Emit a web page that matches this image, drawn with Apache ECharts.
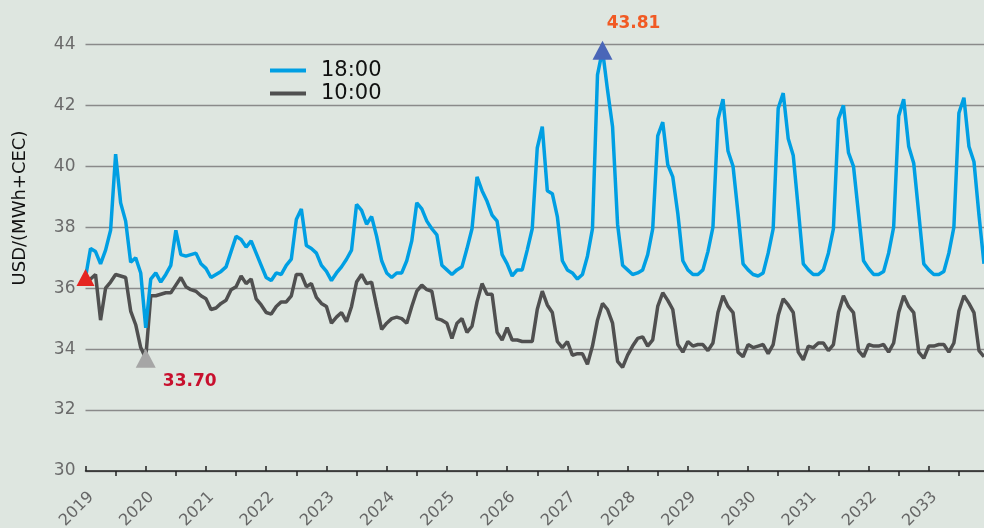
<!DOCTYPE html>
<html>
<head>
<meta charset="utf-8">
<script src="https://cdn.jsdelivr.net/npm/echarts@6/dist/echarts.min.js"></script>
<style>
html, body { margin: 0; padding: 0; background: #dee6e0; }
#chart { width: 984px; height: 528px; }
</style>
</head>
<body>
<div id="chart"></div>
<script>
var years = [2019, 2020, 2021, 2022, 2023, 2024, 2025, 2026, 2027, 2028, 2029, 2030, 2031, 2032, 2033];
var monthNums = ['01', '02', '03', '04', '05', '06', '07', '08', '09', '10', '11', '12'];
var months = [];
years.forEach(function (y) {
    monthNums.forEach(function (m) { months.push(y + '-' + m); });
});

// 18:00 price, one value per month
var price1800 = [
    36.35, 37.3, 37.2, 36.8, 37.25, 37.9, 40.4, 38.8, 38.2, 36.85, 37.0, 36.5,
    34.7, 36.3, 36.5, 36.2, 36.45, 36.75, 37.9, 37.1, 37.05, 37.1, 37.15, 36.8,
    36.65, 36.35, 36.45, 36.55, 36.7, 37.2, 37.7, 37.6, 37.35, 37.55, 37.15, 36.75,
    36.35, 36.25, 36.5, 36.45, 36.75, 36.95, 38.25, 38.6, 37.4, 37.3, 37.15, 36.75,
    36.55, 36.25, 36.5, 36.7, 36.95, 37.25, 38.75, 38.55, 38.1, 38.35, 37.7, 36.9,
    36.5, 36.35, 36.5, 36.5, 36.9, 37.55, 38.8, 38.6, 38.2, 37.95, 37.75, 36.75,
    36.6, 36.45, 36.6, 36.7, 37.3, 37.95, 39.65, 39.2, 38.85, 38.4, 38.2, 37.1,
    36.8, 36.4, 36.6, 36.6, 37.25, 37.95, 40.6, 41.3, 39.2, 39.1, 38.35, 36.9,
    36.6, 36.5, 36.3, 36.45, 37.05, 37.95, 43.0, 43.81, 42.5, 41.3, 38.1, 36.75,
    36.6, 36.45, 36.5, 36.6, 37.1, 37.95, 41.0, 41.45, 40.05, 39.65, 38.45, 36.9,
    36.6, 36.45, 36.45, 36.6, 37.2, 38.0, 41.55, 42.2, 40.5, 40.0, 38.45, 36.8,
    36.6, 36.45, 36.4, 36.5, 37.15, 37.95, 41.9, 42.4, 40.9, 40.35, 38.6, 36.8,
    36.6, 36.45, 36.45, 36.6, 37.15, 37.95, 41.55, 42.0, 40.45, 40.0, 38.45, 36.9,
    36.65, 36.45, 36.45, 36.55, 37.15, 38.0, 41.65, 42.2, 40.65, 40.1, 38.45, 36.8,
    36.6, 36.45, 36.45, 36.55, 37.15, 38.0, 41.75, 42.25, 40.65, 40.15, 38.4, 36.8
];

// 10:00 price, one value per month
var price1000 = [
    36.15, 36.3, 36.45, 34.95, 36.0, 36.2, 36.45, 36.4, 36.35, 35.25, 34.8, 34.05,
    33.7, 35.75, 35.75, 35.8, 35.85, 35.85, 36.1, 36.35, 36.05, 35.95, 35.9, 35.75,
    35.65, 35.3, 35.35, 35.5, 35.6, 35.95, 36.05, 36.4, 36.15, 36.3, 35.65, 35.45,
    35.2, 35.15, 35.4, 35.55, 35.55, 35.75, 36.45, 36.45, 36.05, 36.15, 35.7, 35.5,
    35.4, 34.85, 35.05, 35.2, 34.9, 35.4, 36.2, 36.45, 36.15, 36.2, 35.4, 34.65,
    34.85, 35.0, 35.05, 35.0, 34.85, 35.4, 35.9, 36.1, 35.95, 35.9, 35.0, 34.95,
    34.85, 34.35, 34.85, 35.0, 34.55, 34.75, 35.55, 36.15, 35.8, 35.8, 34.55, 34.3,
    34.7, 34.3, 34.3, 34.25, 34.25, 34.25, 35.3, 35.9, 35.45, 35.2, 34.25, 34.05,
    34.25, 33.8, 33.85, 33.85, 33.5, 34.1, 34.95, 35.5, 35.3, 34.85, 33.6, 33.4,
    33.8, 34.1, 34.35, 34.4, 34.1, 34.3, 35.4, 35.85, 35.6, 35.3, 34.15, 33.9,
    34.25, 34.1, 34.15, 34.15, 33.95, 34.2, 35.2, 35.75, 35.4, 35.2, 33.9, 33.75,
    34.15, 34.05, 34.1, 34.15, 33.85, 34.15, 35.1, 35.65, 35.45, 35.2, 33.9, 33.65,
    34.1, 34.05, 34.2, 34.2, 33.95, 34.15, 35.2, 35.75, 35.4, 35.2, 33.95, 33.75,
    34.15, 34.1, 34.1, 34.15, 33.9, 34.2, 35.2, 35.75, 35.4, 35.2, 33.9, 33.7,
    34.1, 34.1, 34.15, 34.15, 33.9, 34.2, 35.25, 35.75, 35.5, 35.2, 33.95, 33.75
];

var startIdx = 0;   // red marker at the first 18:00 value
var lowIdx = 12;    // labelled 10:00 low, Jan 2020

var font = 'DejaVu Sans';
var myChart = echarts.init(document.getElementById('chart'));

var option = {
    backgroundColor: '#dee6e0',
    animation: false,
    grid: { left: 85.5, right: 0, top: 44.4, bottom: 57, outerBoundsMode: 'none' },
    legend: {
        orient: 'vertical',
        left: 265,
        top: 55,
        itemWidth: 36,
        itemHeight: 4,
        itemGap: 2,
        icon: 'rect',
        textStyle: { fontFamily: font, fontSize: 21, color: '#111', padding: [0, 0, 0, 10] },
        data: ['18:00', '10:00']
    },
    graphic: [{
        type: 'text',
        x: 20,
        y: 208,
        rotation: Math.PI / 2,
        style: {
            text: 'USD/(MWh+CEC)',
            font: '18px "DejaVu Sans"',
            fill: '#111',
            align: 'center',
            verticalAlign: 'middle'
        }
    }],
    xAxis: [{
        type: 'category',
        data: months,
        boundaryGap: false,
        position: 'bottom',
        axisLine: { lineStyle: { color: '#222', width: 1.5 } },
        axisTick: {
            inside: true,
            length: 5,
            interval: function (i) { return i % 12 === 0; },
            lineStyle: { color: '#222', width: 1.5 }
        },
        axisLabel: {
            interval: function (i) { return i % 12 === 0; },
            formatter: function (v) { return v.slice(0, 4); },
            rotate: 45,
            verticalAlign: 'top',
            margin: 18,
            fontFamily: font,
            fontSize: 16,
            color: '#666'
        },
        splitLine: { show: false }
    }, {
        type: 'category',
        data: months,
        boundaryGap: false,
        position: 'bottom',
        axisLine: { show: false },
        axisTick: {
            inside: false,
            length: 5,
            interval: function (i) { return i % 12 === 6; },
            lineStyle: { color: '#222', width: 1.5 }
        },
        axisLabel: { show: false },
        splitLine: { show: false }
    }],
    yAxis: {
        type: 'value',
        min: 30,
        max: 44,
        interval: 2,
        axisLine: { show: false },
        axisTick: { show: false },
        axisLabel: { fontFamily: font, fontSize: 17, color: '#6b6b6b', margin: 10 },
        splitLine: { lineStyle: { color: '#8a8a8a', width: 1.3 } }
    },
    series: [{
        name: '18:00',
        type: 'line',
        data: price1800,
        showSymbol: false,
        color: '#009fe3',
        lineStyle: { width: 3.5, color: '#009fe3' },
        z: 3,
        markPoint: {
            symbol: 'triangle',
            z: 5,
            data: [{
                coord: [startIdx, price1800[startIdx]],
                symbolSize: [18, 17],
                itemStyle: { color: '#e52521' },
                label: { show: false }
            }, {
                type: 'max',
                symbolSize: [20, 19],
                itemStyle: { color: '#4a66b8' },
                label: {
                    show: true,
                    position: 'top',
                    offset: [31, -4],
                    formatter: function (p) { return p.value.toFixed(2); },
                    fontFamily: font,
                    fontWeight: 'bold',
                    fontSize: 17,
                    color: '#f15a24'
                }
            }]
        }
    }, {
        name: '10:00',
        type: 'line',
        data: price1000,
        showSymbol: false,
        color: '#505050',
        lineStyle: { width: 3.5, color: '#505050' },
        z: 2,
        markPoint: {
            symbol: 'triangle',
            z: 5,
            data: [{
                coord: [lowIdx, price1000[lowIdx]],
                value: price1000[lowIdx],
                symbolSize: [20, 19],
                itemStyle: { color: '#a6a6a6' },
                label: {
                    show: true,
                    position: 'bottom',
                    offset: [44, 0],
                    formatter: function (p) { return p.value.toFixed(2); },
                    fontFamily: font,
                    fontWeight: 'bold',
                    fontSize: 17,
                    color: '#c8102e'
                }
            }]
        }
    }]
};

myChart.setOption(option);
</script>
</body>
</html>
